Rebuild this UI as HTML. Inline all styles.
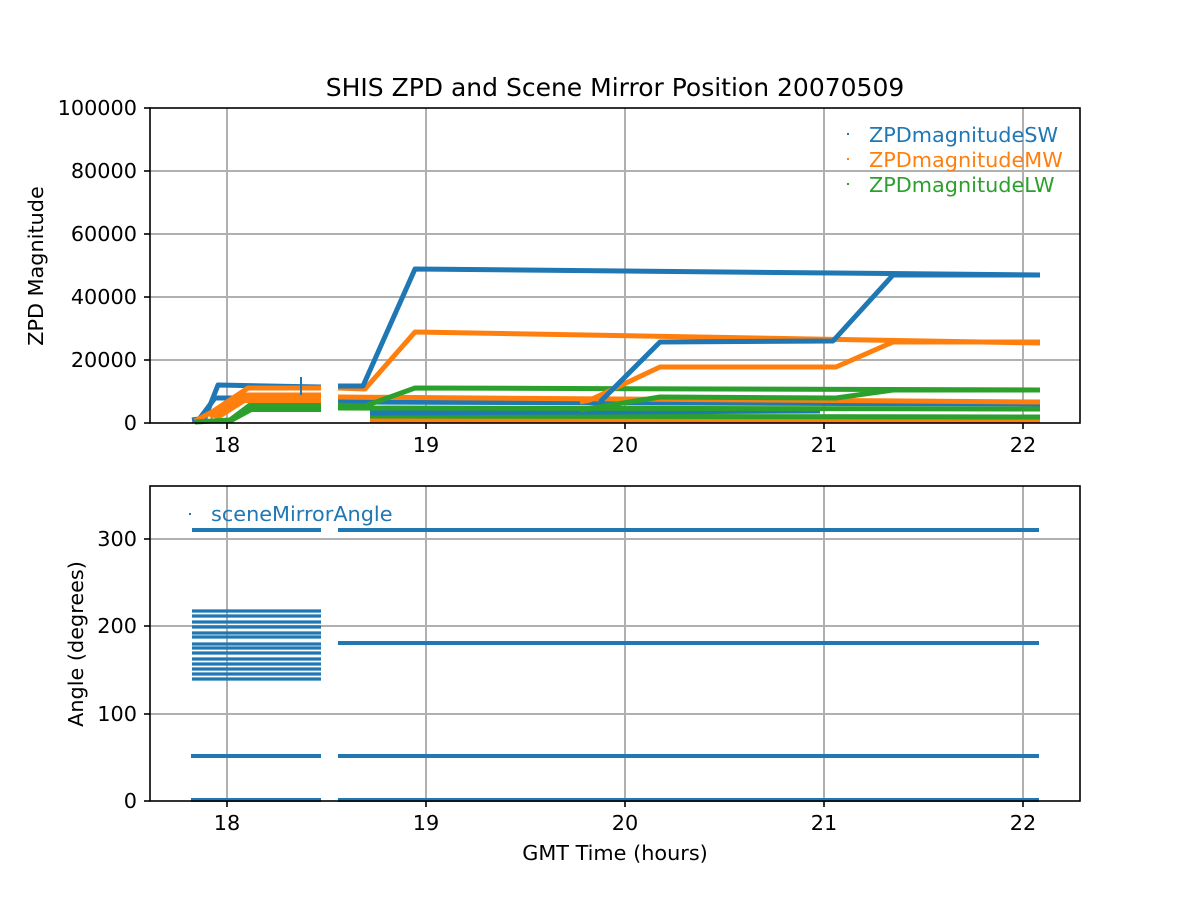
<!DOCTYPE html>
<html><head><meta charset="utf-8"><style>
html,body{margin:0;padding:0;background:#fff;}
svg{display:block;}
text{font-family:"DejaVu Sans","Liberation Sans",sans-serif;}
</style></head><body>
<svg width="1200" height="900" viewBox="0 0 1200 900" xmlns="http://www.w3.org/2000/svg">
<rect width="1200" height="900" fill="#fff"/>
<text x="615" y="96" font-size="25" text-anchor="middle" fill="#000">SHIS ZPD and Scene Mirror Position 20070509</text>

<g stroke="#b0b0b0" stroke-width="2">
<line x1="227" y1="108" x2="227" y2="423"/><line x1="426" y1="108" x2="426" y2="423"/>
<line x1="625" y1="108" x2="625" y2="423"/><line x1="824" y1="108" x2="824" y2="423"/>
<line x1="1023" y1="108" x2="1023" y2="423"/>
<line x1="150" y1="171" x2="1080" y2="171"/><line x1="150" y1="234" x2="1080" y2="234"/>
<line x1="150" y1="297" x2="1080" y2="297"/><line x1="150" y1="360" x2="1080" y2="360"/>
</g>
<g fill="none" stroke-width="5" stroke-linejoin="round">
<polyline stroke="#ff7f0e" points="370,421 1040,421"/>
<polyline stroke="#2ca02c" points="370,416 1040,417"/>
<polyline stroke="#1f77b4" points="370,413 820,411"/>
<polyline stroke="#2ca02c" points="338,408 1040,409"/>
<polyline stroke="#1f77b4" points="338,402 1040,404"/>
<polyline stroke="#ff7f0e" points="338,397 1040,402"/>
<polyline stroke="#2ca02c" points="338,405 365,406 415,388 1040,390"/>
<polyline stroke="#2ca02c" points="580,410 660,397 836,398 893,390 1040,390"/>
<polyline stroke="#ff7f0e" points="338,388 365,389 415,332 1040,343"/>
<polyline stroke="#ff7f0e" points="580,402 590,400 660,367 836,367 893,342 1040,342"/>
<polyline stroke="#1f77b4" points="338,386 363,386 415,269 1040,275"/>
<polyline stroke="#1f77b4" points="600,402 660,342 833,341 893,275 1040,275"/>
<polyline stroke="#1f77b4" points="192,420 205,418 218,385 321,387"/>
<polyline stroke="#1f77b4" points="200,418 215,398 321,398"/>
<polyline stroke="#ff7f0e" points="195,421 212,412 248,388 321,388"/>
<polyline stroke="#ff7f0e" points="210,417 245,395 321,395"/>
<polyline stroke="#ff7f0e" points="215,419 245,400 321,400"/>
<polyline stroke="#2ca02c" points="195,422 230,420 250,405 321,405"/>
<polyline stroke="#2ca02c" points="230,421 252,409 321,409"/>
</g>
<rect x="244" y="393" width="77" height="10" fill="#ff7f0e"/>
<rect x="250" y="403" width="71" height="9" fill="#2ca02c"/>
<line x1="301" y1="377" x2="301" y2="395" stroke="#1f77b4" stroke-width="2"/>
<rect x="150" y="108" width="930" height="315" fill="none" stroke="#000" stroke-width="1.6"/>
<g stroke="#000" stroke-width="1.6">
<line x1="227" y1="423" x2="227" y2="429"/><line x1="426" y1="423" x2="426" y2="429"/>
<line x1="625" y1="423" x2="625" y2="429"/><line x1="824" y1="423" x2="824" y2="429"/>
<line x1="1023" y1="423" x2="1023" y2="429"/>
<line x1="144" y1="108" x2="150" y2="108"/><line x1="144" y1="171" x2="150" y2="171"/>
<line x1="144" y1="234" x2="150" y2="234"/><line x1="144" y1="297" x2="150" y2="297"/>
<line x1="144" y1="360" x2="150" y2="360"/><line x1="144" y1="423" x2="150" y2="423"/>
</g>
<g font-size="20.8" fill="#000" text-anchor="end">
<text x="137" y="115">100000</text><text x="137" y="178">80000</text>
<text x="137" y="241">60000</text><text x="137" y="304">40000</text>
<text x="137" y="367">20000</text><text x="137" y="430">0</text>
</g>
<g font-size="20.8" fill="#000" text-anchor="middle">
<text x="227" y="452">18</text><text x="426" y="452">19</text><text x="625" y="452">20</text>
<text x="824" y="452">21</text><text x="1023" y="452">22</text>
</g>
<text transform="translate(43,266) rotate(-90)" font-size="20.8" text-anchor="middle" fill="#000">ZPD Magnitude</text>
<g font-size="20.8">
<rect x="847" y="133" width="2" height="2" fill="#1f77b4"/><text x="869" y="142" fill="#1f77b4">ZPDmagnitudeSW</text>
<rect x="847" y="158" width="2" height="2" fill="#ff7f0e"/><text x="869" y="167" fill="#ff7f0e">ZPDmagnitudeMW</text>
<rect x="847" y="183" width="2" height="2" fill="#2ca02c"/><text x="869" y="192" fill="#2ca02c">ZPDmagnitudeLW</text>
</g>

<g stroke="#b0b0b0" stroke-width="2">
<line x1="227" y1="486" x2="227" y2="801"/><line x1="426" y1="486" x2="426" y2="801"/>
<line x1="625" y1="486" x2="625" y2="801"/><line x1="824" y1="486" x2="824" y2="801"/>
<line x1="1023" y1="486" x2="1023" y2="801"/>
<line x1="150" y1="539" x2="1080" y2="539"/><line x1="150" y1="626" x2="1080" y2="626"/>
<line x1="150" y1="714" x2="1080" y2="714"/>
</g>
<g stroke="#1f77b4" stroke-width="4">
<line x1="192" y1="530" x2="321" y2="530"/><line x1="338" y1="530" x2="1039" y2="530"/>
<line x1="338" y1="643" x2="1039" y2="643"/>
<line x1="191" y1="756" x2="321" y2="756"/><line x1="338" y1="756" x2="1039" y2="756"/>
<line x1="191" y1="800" x2="321" y2="800"/><line x1="338" y1="800" x2="1039" y2="800"/>
</g>
<g stroke="#1f77b4" stroke-width="3.3">
<line x1="192" y1="611" x2="321" y2="611"/><line x1="192" y1="616" x2="321" y2="616"/>
<line x1="192" y1="622" x2="321" y2="622"/><line x1="192" y1="627" x2="321" y2="627"/>
<line x1="192" y1="633" x2="321" y2="633"/><line x1="192" y1="637" x2="321" y2="637"/>
<line x1="192" y1="644" x2="321" y2="644"/><line x1="192" y1="648" x2="321" y2="648"/>
<line x1="192" y1="653" x2="321" y2="653"/><line x1="192" y1="659" x2="321" y2="659"/>
<line x1="192" y1="664" x2="321" y2="664"/><line x1="192" y1="669" x2="321" y2="669"/>
<line x1="192" y1="674" x2="321" y2="674"/><line x1="192" y1="679" x2="321" y2="679"/>
</g>
<rect x="150" y="486" width="930" height="315" fill="none" stroke="#000" stroke-width="1.6"/>
<g stroke="#000" stroke-width="1.6">
<line x1="227" y1="801" x2="227" y2="807"/><line x1="426" y1="801" x2="426" y2="807"/>
<line x1="625" y1="801" x2="625" y2="807"/><line x1="824" y1="801" x2="824" y2="807"/>
<line x1="1023" y1="801" x2="1023" y2="807"/>
<line x1="144" y1="539" x2="150" y2="539"/><line x1="144" y1="626" x2="150" y2="626"/>
<line x1="144" y1="714" x2="150" y2="714"/><line x1="144" y1="801" x2="150" y2="801"/>
</g>
<g font-size="20.8" fill="#000" text-anchor="end">
<text x="137" y="546">300</text><text x="137" y="633">200</text>
<text x="137" y="721">100</text><text x="137" y="808">0</text>
</g>
<g font-size="20.8" fill="#000" text-anchor="middle">
<text x="227" y="830">18</text><text x="426" y="830">19</text><text x="625" y="830">20</text>
<text x="824" y="830">21</text><text x="1023" y="830">22</text>
</g>
<text x="615" y="860" font-size="20.8" text-anchor="middle" fill="#000">GMT Time (hours)</text>
<text transform="translate(83,644) rotate(-90)" font-size="20.8" text-anchor="middle" fill="#000">Angle (degrees)</text>
<rect x="189" y="513" width="2" height="2" fill="#1f77b4"/>
<text x="211" y="521" font-size="20.8" fill="#1f77b4">sceneMirrorAngle</text>
</svg>
</body></html>
